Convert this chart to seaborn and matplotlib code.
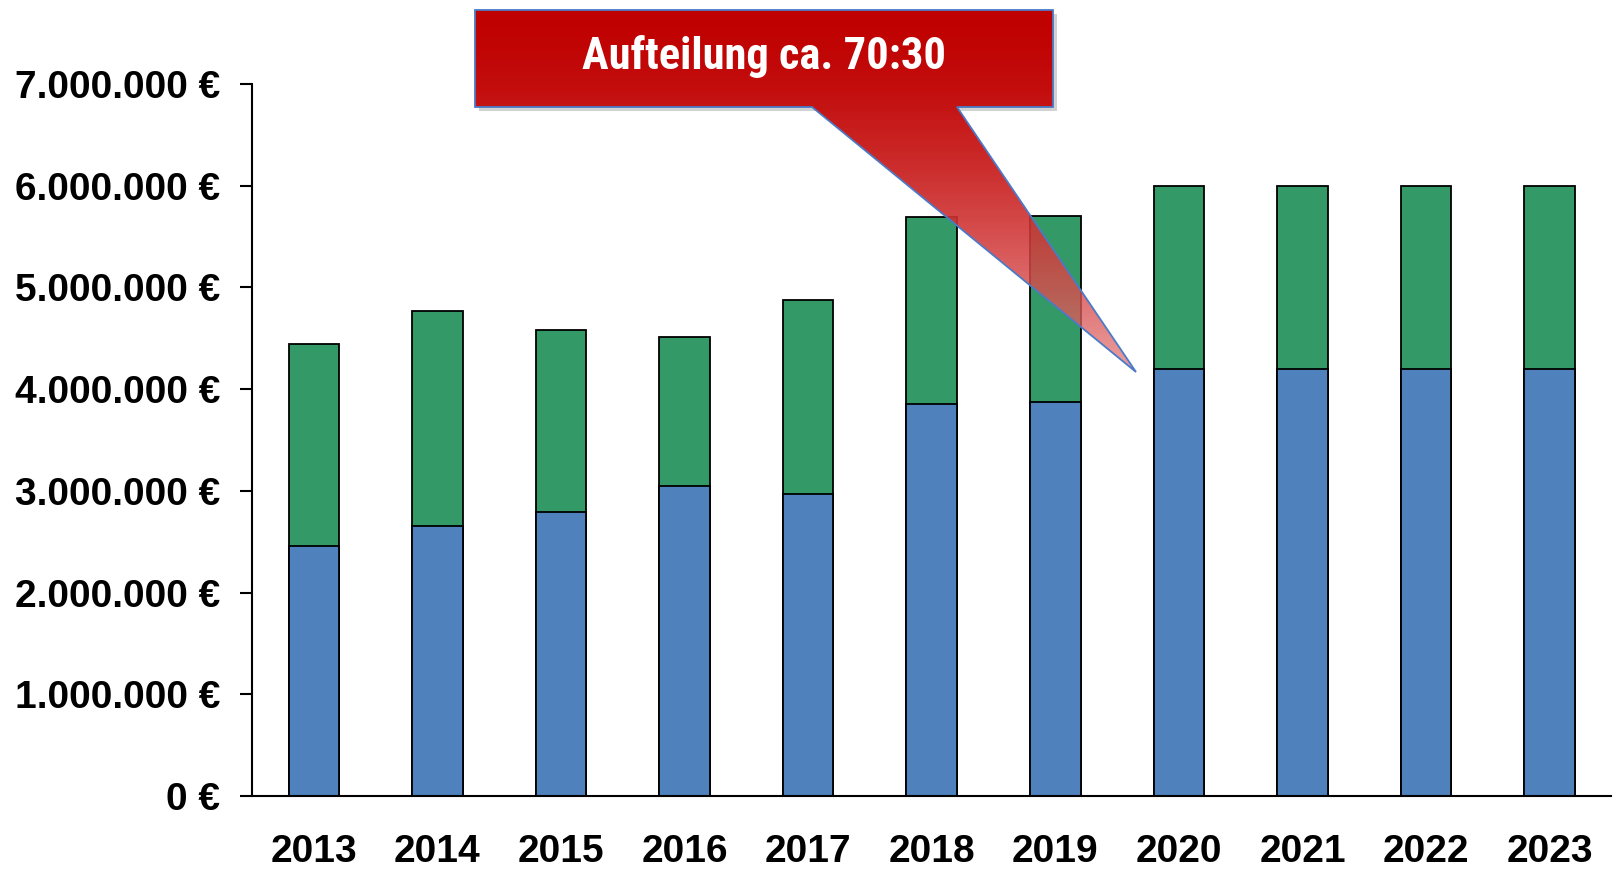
import numpy as np
import pandas as pd
import matplotlib
matplotlib.use("Agg")
import matplotlib.pyplot as plt
import seaborn as sns
from matplotlib.patches import Polygon, Rectangle
from matplotlib.ticker import FuncFormatter

# values (in euro)
years = ["2013", "2014", "2015", "2016", "2017", "2018", "2019", "2020", "2021", "2022", "2023"]
anteil_blau = [2.46e6, 2.65e6, 2.79e6, 3.05e6, 2.97e6, 3.85e6, 3.87e6, 4.2e6, 4.2e6, 4.2e6, 4.2e6]
anteil_gruen = [1.98e6, 2.12e6, 1.79e6, 1.46e6, 1.91e6, 1.84e6, 1.83e6, 1.8e6, 1.8e6, 1.8e6, 1.8e6]
callout_text = "Aufteilung ca. 70:30"

df = pd.DataFrame({"jahr": years, "blau": anteil_blau, "gruen": anteil_gruen})
df["gesamt"] = df["blau"] + df["gruen"]

sns.set_style("white")
plt.rcParams["font.family"] = ["Liberation Sans", "DejaVu Sans"]
plt.rcParams["text.color"] = "black"
plt.rcParams["xtick.color"] = "black"
plt.rcParams["ytick.color"] = "black"

blue = "#4f81bd"
green = "#339966"

fig = plt.figure(figsize=(16.19, 8.69), dpi=100)
ax = fig.add_axes([0.1557, 0.084, 0.8396, 0.8193])

# stacked bars: total in green, blue part on top of it
sns.barplot(data=df, x="jahr", y="gesamt", color=green, saturation=1, width=0.41,
            edgecolor="black", linewidth=1.3, ax=ax)
sns.barplot(data=df, x="jahr", y="blau", color=blue, saturation=1, width=0.41,
            edgecolor="black", linewidth=1.3, ax=ax)

ax.set_xlim(-0.5, len(years) - 0.5)
ax.set_ylim(0, 7e6)
ax.set_yticks(np.arange(0, 7.5e6, 1e6))
ax.yaxis.set_major_formatter(FuncFormatter(lambda v, p: f"{int(v):,}".replace(",", ".") + " €"))
ax.set_xlabel("")
ax.set_ylabel("")

sns.despine(ax=ax)
for s in ["left", "bottom"]:
    ax.spines[s].set_linewidth(1.5)
    ax.spines[s].set_color("black")

ax.set_xticks(np.arange(-0.5, len(years), 1), minor=True)
ax.tick_params(axis="x", which="major", length=0, pad=27, labelsize=28, labelcolor="black")
ax.tick_params(axis="x", which="minor", length=9, width=1.5, direction="out", color="black")
ax.tick_params(axis="y", length=9, width=1.5, direction="out", color="black", pad=14,
               labelsize=28, labelcolor="black", left=True)
for lab in ax.get_xticklabels() + ax.get_yticklabels():
    lab.set_fontweight("bold")

# callout box with pointer, drawn in pixel coordinates on an overlay
ov = fig.add_axes([0, 0, 1, 1], zorder=5)
ov.set_xlim(0, 1619)
ov.set_ylim(869, 0)
ov.axis("off")

shadow = Rectangle((479, 14), 578, 97, facecolor="gray", alpha=0.35, edgecolor="none")
ov.add_patch(shadow)

verts = [(475, 10), (1053, 10), (1053, 107), (957, 107), (1136, 372), (812, 107), (475, 107)]
shape = Polygon(verts, closed=True, facecolor="none", edgecolor="#4a7ac8", linewidth=1.3, zorder=3)
ov.add_patch(shape)

n = 200
t = np.linspace(0, 1, n)
grad = np.zeros((n, 1, 4))
grad[:, 0, 0] = (192 + (228 - 192) * t ** 1.6) / 255
grad[:, 0, 1] = (0 + (120 - 0) * t ** 1.6) / 255
grad[:, 0, 2] = (0 + (120 - 0) * t ** 1.6) / 255
grad[:, 0, 3] = 1 - 0.3 * t ** 2
im = ov.imshow(grad, extent=[470, 1140, 375, 8], origin="upper", aspect="auto", zorder=2)
im.set_clip_path(shape)
ov.set_xlim(0, 1619)
ov.set_ylim(869, 0)

ov.text(764, 56, callout_text, color="white", fontsize=32, fontweight="bold",
        family=["Roboto Condensed", "Open Sans Condensed", "DejaVu Sans Condensed", "Roboto"],
        fontstretch="condensed", ha="center", va="center", zorder=4)

fig.savefig("out.png", dpi=100)
